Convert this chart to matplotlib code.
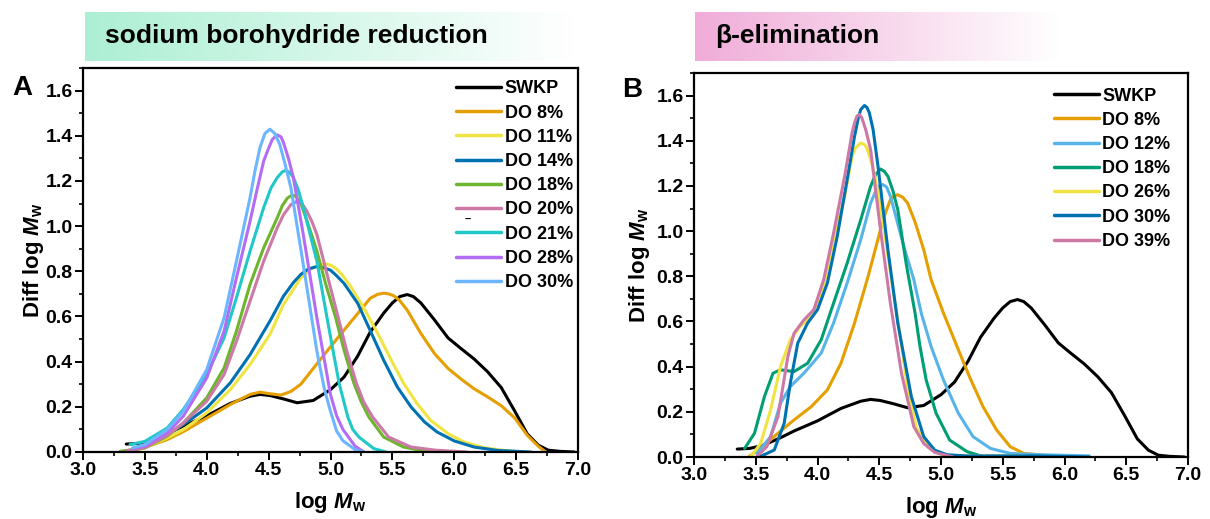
import numpy as np
import matplotlib
matplotlib.use("Agg")
import matplotlib.pyplot as plt
from matplotlib.ticker import MultipleLocator

plt.rcParams['font.family'] = ['Liberation Sans', 'DejaVu Sans']
plt.rcParams['font.weight'] = 'bold'
plt.rcParams['mathtext.fontset'] = 'custom'
plt.rcParams['mathtext.rm'] = 'Liberation Sans:bold'
plt.rcParams['mathtext.it'] = 'Liberation Sans:italic:bold'
plt.rcParams['mathtext.bf'] = 'Liberation Sans:bold'

# ---------------- data: panel A (sodium borohydride reduction) ----------------
swkp_x = [3.35, 3.45, 3.55, 3.68, 3.81, 4.0, 4.19, 4.35, 4.43, 4.51, 4.62, 4.73, 4.86, 5.0, 5.11, 5.22,
          5.32, 5.43, 5.5, 5.56, 5.62, 5.67, 5.73, 5.84, 5.95, 6.05, 6.16, 6.27, 6.38, 6.49, 6.59, 6.68,
          6.76, 6.85, 6.97]
swkp_y = [0.035, 0.038, 0.05, 0.08, 0.115, 0.16, 0.215, 0.247, 0.255, 0.25, 0.235, 0.218, 0.228, 0.276, 0.332, 0.425,
          0.53, 0.615, 0.66, 0.688, 0.697, 0.688, 0.66, 0.585, 0.505, 0.46, 0.412, 0.355, 0.285, 0.18, 0.08, 0.03,
          0.008, 0.003, 0.0]

a_do8_x = [3.38, 3.5, 3.68, 3.81, 4.0, 4.19, 4.35, 4.43, 4.51, 4.6, 4.68, 4.76, 4.89, 5.0, 5.11, 5.22, 5.32, 5.38,
           5.43, 5.47, 5.51, 5.56, 5.62, 5.73, 5.84, 5.95, 6.05, 6.16, 6.27, 6.38, 6.49, 6.59, 6.68, 6.74]
a_do8_y = [0.0, 0.02, 0.055, 0.09, 0.15, 0.21, 0.255, 0.265, 0.258, 0.252, 0.268, 0.3, 0.39, 0.466, 0.54, 0.613, 0.68,
           0.698, 0.703, 0.7, 0.692, 0.67, 0.628, 0.525, 0.436, 0.37, 0.325, 0.28, 0.244, 0.205, 0.15, 0.074, 0.025, 0.0]

a_do11_x = [3.38, 3.5, 3.68, 3.81, 4.0, 4.19, 4.35, 4.51, 4.62, 4.76, 4.84, 4.89, 4.93, 4.97, 5.01, 5.05, 5.1, 5.16,
            5.27, 5.38, 5.49, 5.59, 5.7, 5.81, 5.95, 6.08, 6.24, 6.4, 6.55]
a_do11_y = [0.0, 0.02, 0.062, 0.099, 0.173, 0.276, 0.387, 0.52, 0.653, 0.771, 0.81, 0.823, 0.83, 0.832, 0.825, 0.81,
            0.78, 0.735, 0.637, 0.527, 0.408, 0.305, 0.214, 0.14, 0.081, 0.044, 0.019, 0.007, 0.0]

a_do14_x = [3.4, 3.5, 3.68, 3.81, 4.0, 4.19, 4.35, 4.51, 4.62, 4.7, 4.76, 4.82, 4.89, 4.95, 5.0, 5.05, 5.11, 5.22,
            5.32, 5.43, 5.54, 5.65, 5.76, 5.86, 6.0, 6.16, 6.35, 6.62]
a_do14_y = [0.005, 0.025, 0.077, 0.121, 0.195, 0.306, 0.431, 0.579, 0.69, 0.75, 0.786, 0.81, 0.821, 0.815, 0.805,
            0.78, 0.746, 0.658, 0.539, 0.406, 0.288, 0.2, 0.133, 0.089, 0.049, 0.022, 0.007, 0.0]

a_do18_x = [3.3, 3.5, 3.68, 3.81, 4.0, 4.14, 4.24, 4.35, 4.46, 4.57, 4.61, 4.65, 4.69, 4.72, 4.76, 4.8, 4.89, 4.96,
            5.04, 5.11, 5.19, 5.25, 5.31, 5.43, 5.59, 5.8]
a_do18_y = [0.003, 0.018, 0.07, 0.128, 0.24, 0.372, 0.535, 0.742, 0.904, 1.037, 1.09, 1.123, 1.138, 1.132, 1.1, 1.04,
            0.89, 0.746, 0.598, 0.45, 0.303, 0.22, 0.155, 0.066, 0.022, 0.0]

a_do20_x = [3.35, 3.5, 3.68, 3.81, 4.0, 4.14, 4.24, 4.35, 4.46, 4.57, 4.62, 4.68, 4.73, 4.77, 4.81, 4.85, 4.89, 4.98,
            5.06, 5.13, 5.21, 5.27, 5.34, 5.47, 5.65, 5.85, 6.1]
a_do20_y = [0.005, 0.02, 0.074, 0.128, 0.225, 0.343, 0.49, 0.668, 0.845, 0.993, 1.05, 1.095, 1.11, 1.1, 1.065, 1.02,
            0.963, 0.77, 0.6, 0.45, 0.303, 0.22, 0.155, 0.066, 0.022, 0.008, 0.0]

a_do21_x = [3.38, 3.5, 3.68, 3.81, 4.0, 4.14, 4.24, 4.35, 4.46, 4.52, 4.57, 4.61, 4.64, 4.67, 4.7, 4.74, 4.78, 4.89,
            4.97, 5.02, 5.07, 5.14, 5.18, 5.23, 5.35, 5.45]
a_do21_y = [0.033, 0.047, 0.106, 0.188, 0.343, 0.505, 0.683, 0.889, 1.082, 1.17, 1.215, 1.24, 1.247, 1.238, 1.215,
            1.16, 1.082, 0.845, 0.6, 0.45, 0.303, 0.155, 0.1, 0.066, 0.015, 0.0]

a_do28_x = [3.4, 3.5, 3.68, 3.81, 4.0, 4.14, 4.24, 4.35, 4.41, 4.46, 4.5, 4.53, 4.57, 4.6, 4.62, 4.66, 4.7, 4.78,
            4.89, 5.0, 5.05, 5.1, 5.2, 5.27]
a_do28_y = [0.015, 0.025, 0.084, 0.158, 0.328, 0.535, 0.771, 1.022, 1.17, 1.288, 1.345, 1.384, 1.404, 1.395, 1.37,
            1.3, 1.215, 0.963, 0.594, 0.254, 0.16, 0.1, 0.025, 0.0]

a_do30_x = [3.4, 3.5, 3.68, 3.81, 4.0, 4.14, 4.24, 4.35, 4.39, 4.43, 4.47, 4.51, 4.55, 4.59, 4.63, 4.68, 4.78, 4.89,
            4.95, 5.0, 5.05, 5.1, 5.2, 5.27]
a_do30_y = [0.018, 0.033, 0.099, 0.18, 0.365, 0.594, 0.845, 1.126, 1.245, 1.348, 1.41, 1.429, 1.41, 1.362, 1.28,
            1.17, 0.83, 0.446, 0.28, 0.18, 0.092, 0.05, 0.01, 0.0]

a_labels = ['SWKP', 'DO 8%', 'DO 11%', 'DO 14%', 'DO 18%', 'DO 20%', 'DO 21%', 'DO 28%', 'DO 30%']
a_colors = ['#000000', '#e69f00', '#f0e442', '#0072b2', '#6cb52d', '#cc79a7', '#20c8c8', '#b46cf5', '#6cb6ff']
a_series = [(swkp_x, swkp_y), (a_do8_x, a_do8_y), (a_do11_x, a_do11_y), (a_do14_x, a_do14_y),
            (a_do18_x, a_do18_y), (a_do20_x, a_do20_y), (a_do21_x, a_do21_y), (a_do28_x, a_do28_y),
            (a_do30_x, a_do30_y)]

# ---------------- data: panel B (beta-elimination) ----------------
b_do8_x = [3.45, 3.54, 3.68, 3.81, 3.95, 4.08, 4.19, 4.3, 4.41, 4.51, 4.55, 4.59, 4.62, 4.65, 4.69, 4.73, 4.79, 4.86,
           4.92, 5.02, 5.13, 5.23, 5.34, 5.45, 5.56, 5.67, 5.8, 5.9]
b_do8_y = [0.004, 0.038, 0.105, 0.164, 0.223, 0.297, 0.415, 0.593, 0.8, 1.006, 1.08, 1.139, 1.155, 1.161, 1.15, 1.124,
           1.04, 0.918, 0.785, 0.637, 0.489, 0.356, 0.223, 0.12, 0.046, 0.016, 0.01, 0.0]

b_do12_x = [3.51, 3.62, 3.7, 3.78, 3.89, 4.03, 4.13, 4.24, 4.35, 4.43, 4.47, 4.5, 4.53, 4.56, 4.59, 4.62, 4.7, 4.78,
            4.84, 4.92, 5.02, 5.14, 5.26, 5.4, 5.56, 5.8, 6.2]
b_do12_y = [0.016, 0.09, 0.238, 0.312, 0.371, 0.46, 0.593, 0.77, 0.962, 1.124, 1.175, 1.2, 1.206, 1.195, 1.155, 1.095,
            0.93, 0.785, 0.637, 0.489, 0.341, 0.194, 0.09, 0.038, 0.016, 0.01, 0.005]

b_do18_x = [3.41, 3.49, 3.57, 3.64, 3.7, 3.81, 3.92, 4.03, 4.13, 4.24, 4.35, 4.43, 4.47, 4.51, 4.54, 4.57, 4.61, 4.65,
            4.72, 4.79, 4.83, 4.88, 4.96, 5.07, 5.21, 5.35]
b_do18_y = [0.038, 0.105, 0.267, 0.371, 0.386, 0.378, 0.415, 0.519, 0.681, 0.858, 1.05, 1.198, 1.25, 1.275, 1.265,
            1.243, 1.18, 1.095, 0.85, 0.637, 0.489, 0.341, 0.194, 0.075, 0.024, 0.0]

b_do26_x = [3.46, 3.54, 3.62, 3.7, 3.78, 3.86, 3.95, 4.05, 4.13, 4.22, 4.28, 4.31, 4.35, 4.38, 4.4, 4.44, 4.47, 4.54,
            4.62, 4.68, 4.73, 4.8, 4.9, 5.0, 5.1, 5.6, 5.78]
b_do26_y = [0.003, 0.06, 0.208, 0.4, 0.519, 0.578, 0.622, 0.755, 0.962, 1.154, 1.331, 1.37, 1.39, 1.383, 1.368, 1.3,
            1.228, 1.006, 0.711, 0.5, 0.3, 0.13, 0.04, 0.012, 0.005, 0.005, 0.0]

b_do30_x = [3.54, 3.65, 3.73, 3.78, 3.84, 3.92, 4.0, 4.08, 4.16, 4.24, 4.3, 4.33, 4.35, 4.38, 4.4, 4.42, 4.45, 4.49,
            4.57, 4.65, 4.76, 4.86, 4.95, 5.05, 5.2, 5.5, 5.75, 6.2]
b_do30_y = [0.003, 0.031, 0.149, 0.327, 0.504, 0.593, 0.652, 0.77, 0.977, 1.228, 1.42, 1.5, 1.538, 1.556, 1.548,
            1.523, 1.45, 1.287, 0.918, 0.593, 0.267, 0.09, 0.03, 0.01, 0.005, 0.005, 0.005, 0.0]

b_do39_x = [3.51, 3.59, 3.68, 3.76, 3.81, 3.89, 3.97, 4.05, 4.13, 4.22, 4.28, 4.3, 4.32, 4.34, 4.36, 4.39, 4.43,
            4.51, 4.59, 4.68, 4.78, 4.86, 4.95, 5.1]
b_do39_y = [0.003, 0.046, 0.179, 0.445, 0.548, 0.607, 0.652, 0.785, 0.991, 1.243, 1.435, 1.48, 1.51, 1.516, 1.5,
            1.45, 1.361, 1.006, 0.681, 0.371, 0.134, 0.06, 0.02, 0.0]

b_labels = ['SWKP', 'DO 8%', 'DO 12%', 'DO 18%', 'DO 26%', 'DO 30%', 'DO 39%']
b_colors = ['#000000', '#e69f00', '#56b4e9', '#009e73', '#f0e442', '#0072b2', '#cc79a7']
b_series = [(swkp_x, swkp_y), (b_do8_x, b_do8_y), (b_do12_x, b_do12_y), (b_do18_x, b_do18_y),
            (b_do26_x, b_do26_y), (b_do30_x, b_do30_y), (b_do39_x, b_do39_y)]

x_ticks = [3.0, 3.5, 4.0, 4.5, 5.0, 5.5, 6.0, 6.5, 7.0]
y_ticks = [0.0, 0.2, 0.4, 0.6, 0.8, 1.0, 1.2, 1.4, 1.6]

# ---------------- figure ----------------
W, H = 1210, 519
fig = plt.figure(figsize=(W / 100, H / 100), dpi=100)


def fx(px):
    return px / W


def fy(py):
    return 1 - py / H


def banner(x0, x1, y0, y1, rgb, text):
    bax = fig.add_axes([fx(x0), fy(y1), fx(x1 - x0), (y1 - y0) / H])
    t = np.linspace(0, 1, 256)
    c0 = np.array(rgb) / 255.0
    grad = c0[None, :] * (1 - t[:, None]) + np.ones(3)[None, :] * t[:, None]
    bax.imshow(grad[None, :, :], aspect='auto', extent=[0, 1, 0, 1])
    bax.set_axis_off()
    fig.text(fx(x0 + 20), fy((y0 + y1) / 2), text, fontsize=19, fontweight='bold', va='center', ha='left')


banner(85, 575, 12, 61, (172, 239, 212), 'sodium borohydride reduction')
banner(695, 1060, 12, 61, (240, 172, 216), 'β-elimination')


def make_axes(left, right, top, bottom, series, labels, colors, leg_anchor, ylab_x, xlab_y):
    ax = fig.add_axes([fx(left), fy(bottom), fx(right - left), (bottom - top) / H])
    for (xs, ys), lab, col in zip(series, labels, colors):
        ax.plot(xs, ys, color=col, lw=2.2, label=lab, solid_capstyle='round', solid_joinstyle='round')
    ax.set_xlim(3.0, 7.0)
    ax.set_ylim(0.0, 1.7)
    ax.set_xticks(x_ticks)
    ax.set_xticklabels([f'{v:.1f}' for v in x_ticks])
    ax.set_yticks(y_ticks)
    ax.set_yticklabels([f'{v:.1f}' for v in y_ticks])
    ax.xaxis.set_minor_locator(MultipleLocator(0.25))
    ax.yaxis.set_minor_locator(MultipleLocator(0.1))
    ax.tick_params(which='major', direction='out', length=6, width=1.4, labelsize=14, pad=1.5,
                   top=False, right=False)
    ax.tick_params(which='minor', direction='out', length=3, width=1.2, top=False, right=False)
    for s in ax.spines.values():
        s.set_linewidth(1.6)
    for lab in ax.get_xticklabels() + ax.get_yticklabels():
        lab.set_fontweight('bold')
    ax.set_xlabel(r'log $\mathit{M}_\mathrm{w}$', fontsize=16, fontweight='bold')
    ax.set_ylabel(r'Diff log $\mathit{M}_\mathrm{w}$', fontsize=16, fontweight='bold')
    ax.xaxis.set_label_coords(0.5, xlab_y)
    ax.yaxis.set_label_coords(ylab_x, 0.5)
    leg = ax.legend(loc='upper right', bbox_to_anchor=leg_anchor, frameon=False, fontsize=13,
                    handlelength=2.5, handletextpad=0.2, labelspacing=0.4, borderpad=0, borderaxespad=0)
    for t in leg.get_texts():
        t.set_fontweight('bold')
    for h in leg.legend_handles:
        h.set_linewidth(2.5)
    return ax


axA = make_axes(83, 578, 68, 452, a_series, a_labels, a_colors, (0.99, 0.968), -0.074, -0.10)
axB = make_axes(694, 1188, 73, 457, b_series, b_labels, b_colors, (0.965, 0.962), -0.086, -0.10)

fig.text(fx(22), fy(88), 'A', fontsize=20, fontweight='bold', ha='center', va='center')
fig.text(fx(632), fy(90), 'B', fontsize=20, fontweight='bold', ha='center', va='center')
fig.text(fx(468), fy(220), '–', fontsize=8, fontweight='bold', ha='center', va='center')

fig.savefig('out.png', dpi=100)
